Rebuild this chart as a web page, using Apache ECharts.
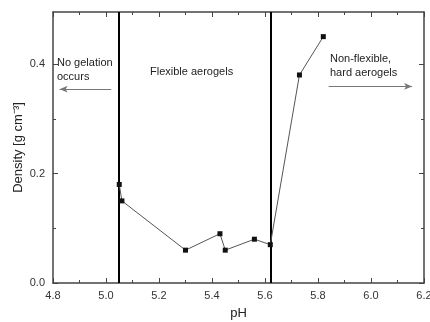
<!DOCTYPE html>
<html>
<head>
<meta charset="utf-8">
<script src="https://cdn.jsdelivr.net/npm/echarts@6/dist/echarts.min.js"></script>
<style>
  html, body { margin: 0; padding: 0; background: #fff; }
  #chart { width: 430px; height: 322px; }
</style>
</head>
<body>
<div id="chart"></div>
<script>
// measured points (pH, density)
const phValues = [5.05, 5.06, 5.30, 5.43, 5.45, 5.56, 5.62, 5.73, 5.82]
const densityValues = [0.18, 0.15, 0.06, 0.09, 0.06, 0.08, 0.07, 0.38, 0.45]

// region boundaries and arrows
const boundaries = [5.05, 5.62]
const leftArrow = [[5.02, 0.354], [4.825, 0.354]]
const rightArrow = [[5.84, 0.359], [6.155, 0.359]]

const yTicks = [0, 0.2, 0.4]

const chart = echarts.init(document.getElementById("chart"))

const font = "Liberation Sans, Arial, sans-serif"
const axisColor = "#444"

const baseX = {
  type: "value",
  min: 4.8,
  max: 6.2,
  interval: 0.2,
  axisLine: { show: true, onZero: false, lineStyle: { color: axisColor, width: 1.5 } },
  axisTick: { show: true, inside: true, length: 5, lineStyle: { color: axisColor } },
  minorTick: { show: true, splitNumber: 2, length: 3, lineStyle: { color: axisColor } },
  splitLine: { show: false },
}

const baseY = {
  type: "value",
  min: 0,
  max: 0.495,
  interval: 0.2,
  axisLine: { show: true, onZero: false, lineStyle: { color: axisColor, width: 1.5 } },
  axisTick: { show: true, inside: true, length: 5, customValues: yTicks, lineStyle: { color: axisColor } },
  minorTick: { show: true, splitNumber: 2, length: 3, lineStyle: { color: axisColor } },
  splitLine: { show: false },
}

const arrowLine = { color: "#777", width: 1, type: "solid" }

const option = {
  backgroundColor: "#fff",
  animation: false,
  grid: { left: 53, right: 6, top: 12, bottom: 39, containLabel: false, outerBoundsMode: "none" },
  xAxis: [
    {
      ...baseX,
      position: "bottom",
      name: "pH",
      nameLocation: "middle",
      nameGap: 24,
      nameTextStyle: { fontFamily: font, fontSize: 13, color: "#222" },
      axisLabel: {
        fontFamily: font, fontSize: 11, color: "#333", margin: 7,
        formatter: (v) => v.toFixed(1),
      },
    },
    {
      ...baseX,
      position: "top",
      axisLabel: { show: false },
    },
  ],
  yAxis: [
    {
      ...baseY,
      position: "left",
      name: "Density [g cm\u207B\u00B3]",
      nameLocation: "middle",
      nameGap: 28,
      nameMoveOverlap: false,
      nameTextStyle: { fontFamily: font, fontSize: 13, color: "#222" },
      axisLabel: {
        fontFamily: font, fontSize: 11, color: "#333", margin: 8,
        customValues: yTicks,
        formatter: (v) => v.toFixed(1),
      },
    },
    {
      ...baseY,
      position: "right",
      axisLabel: { show: false },
    },
  ],
  series: [
    {
      type: "line",
      data: phValues.map((x, i) => [x, densityValues[i]]),
      symbol: "rect",
      symbolSize: 5,
      itemStyle: { color: "#111" },
      lineStyle: { color: "#555", width: 1 },
      z: 5,
      markLine: {
        silent: true,
        animation: false,
        symbol: "none",
        label: { show: false },
        data: [
          ...boundaries.map((b) => ({
            xAxis: b,
            lineStyle: { color: "#000", width: 2, type: "solid" },
          })),
          [
            { coord: leftArrow[0], symbol: "none", lineStyle: arrowLine },
            { coord: leftArrow[1], symbol: "arrow", symbolSize: [5, 8], lineStyle: arrowLine },
          ],
          [
            { coord: rightArrow[0], symbol: "none", lineStyle: arrowLine },
            { coord: rightArrow[1], symbol: "arrow", symbolSize: [5, 8], lineStyle: arrowLine },
          ],
        ],
      },
    },
  ],
  graphic: [
    {
      type: "text", left: 57, top: 56,
      style: { text: "No gelation\noccurs", font: "11px " + font, fill: "#222", lineHeight: 14 },
    },
    {
      type: "text", left: 150, top: 66,
      style: { text: "Flexible aerogels", font: "11px " + font, fill: "#222" },
    },
    {
      type: "text", left: 330, top: 52,
      style: { text: "Non-flexible,\nhard aerogels", font: "11px " + font, fill: "#222", lineHeight: 14 },
    },
  ],
}

chart.setOption(option)
</script>
</body>
</html>
